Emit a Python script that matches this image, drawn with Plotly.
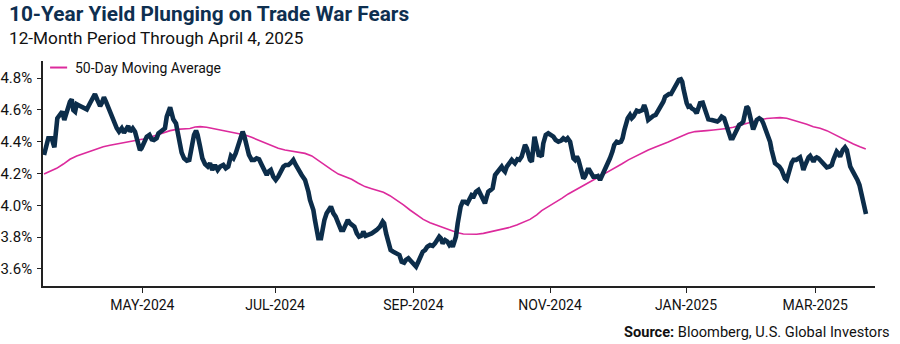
import pandas as pd
import plotly.graph_objects as go

START = pd.Timestamp("2024-04-04")

# 10-year Treasury yield (%), sampled along the series; x is calendar days since START
yield_days = [
    0.0, 1.9, 3.4, 4.6, 5.9, 7.1, 8.1, 9.0, 10.1, 11.5, 12.3, 13.0, 13.8, 14.5, 16.0,
    17.5, 19.0, 20.4, 21.9, 22.6, 23.7, 24.9, 25.6, 26.6, 27.5, 28.6, 30.0, 31.1, 32.3,
    33.3, 34.5, 35.5, 36.4, 37.4, 38.2, 39.4, 40.4, 41.4, 42.6, 43.3, 44.4, 45.6, 46.8,
    47.8, 48.8, 50.0, 50.8, 51.8, 52.7, 53.7, 54.5, 55.2, 56.0, 56.7, 57.4, 58.6, 59.2,
    60.1, 61.1, 62.2, 63.4, 64.5, 65.6, 66.6, 67.5, 68.2, 69.3, 70.3, 71.5, 72.7, 73.7,
    74.7, 75.9, 77.1, 78.2, 79.6, 80.7, 81.8, 83.0, 84.1, 85.1, 86.3, 87.5, 88.2, 89.0,
    90.0, 91.0, 92.2, 93.4, 94.4, 95.5, 96.7, 97.8, 98.9, 99.6, 100.7, 101.8, 102.9,
    104.0, 105.2, 106.3, 107.3, 108.5, 109.7, 110.7, 111.8, 112.9, 114.4, 115.9, 116.7,
    117.4, 118.1, 118.9, 119.6, 120.3, 121.1, 121.8, 123.0, 123.6, 124.5, 125.5, 126.6,
    127.4, 128.5, 129.5, 130.7, 131.9, 132.9, 133.7, 134.9, 135.9, 136.6, 137.8, 138.9,
    139.9, 141.1, 141.8, 142.8, 144.0, 145.5, 147.7, 149.2, 150.4, 151.0, 151.9, 152.9,
    153.9, 155.1, 156.6, 157.8, 158.8, 159.9, 160.7, 161.8, 162.8, 164.0, 165.2, 166.2,
    167.3, 168.2, 169.2, 170.2, 171.4, 172.6, 173.6, 174.6, 175.5, 176.2, 177.0, 178.1,
    179.1, 180.0, 180.7, 181.5, 182.1, 182.9, 183.7, 184.4, 185.0, 185.9, 186.9, 188.0,
    188.9, 189.9, 190.9, 191.8, 192.9, 193.6, 194.4, 195.1, 195.8, 196.6, 197.3, 198.4,
    199.2, 200.3, 201.0, 202.2, 203.2, 204.0, 204.7, 205.5, 206.6, 207.7, 208.4, 209.1,
    210.2, 211.1, 212.1, 212.9, 213.6, 214.4, 215.1, 215.8, 216.6, 217.3, 217.8, 218.3,
    219.0, 219.8, 220.2, 221.0, 221.7, 222.8, 223.9, 225.1, 226.2, 227.2, 228.4, 229.6,
    230.6, 231.7, 232.5, 233.6, 234.3, 235.1, 235.8, 236.6, 237.3, 238.0, 238.8, 239.5,
    240.2, 241.4, 242.1, 242.9, 243.9, 245.0, 245.9, 246.9, 247.6, 248.4, 249.4, 250.3,
    251.3, 252.4, 253.2, 254.3, 255.3, 256.2, 256.9, 257.7, 258.3, 259.2, 260.2, 261.0,
    261.7, 262.4, 263.2, 264.2, 265.1, 265.7, 266.5, 267.3, 268.3, 269.1, 269.8, 270.5,
    271.6, 272.5, 273.5, 274.3, 275.0, 275.8, 276.5, 277.5, 278.4, 279.0, 279.9, 280.9,
    281.9, 282.8, 283.4, 283.9, 284.6, 285.4, 286.1, 286.9, 287.6, 288.8, 289.8, 290.5,
    291.3, 292.5, 293.1, 294.0, 295.0, 296.5, 298.0, 299.0, 299.9, 300.9, 302.0, 302.8,
    303.9, 304.9, 305.8, 306.8, 307.8, 308.7, 309.8, 310.5, 311.3, 312.0, 312.7, 313.5,
    314.2, 314.9, 315.7, 316.5, 317.6, 318.7, 319.4, 320.2, 320.9, 321.6, 322.4, 323.1,
    323.8, 324.6, 325.6, 326.5, 327.5, 328.3, 329.0, 329.8, 330.5, 331.3, 332.0, 332.8,
    334.0, 335.0, 335.7, 336.5, 337.2, 338.0, 338.7, 339.5, 340.2, 341.0, 341.7, 342.4,
    343.1, 343.9, 344.6, 345.8, 346.8, 347.6, 348.8, 349.8, 350.5, 351.3, 352.0, 352.7,
    353.5, 354.7, 355.7, 356.5, 357.2, 358.0, 359.2, 360.2, 361.2, 362.1, 362.9, 363.6,
    364.4, 365.0,
]
yield_pct = [
    4.317, 4.422, 4.422, 4.365, 4.548, 4.579, 4.590, 4.537, 4.600, 4.652, 4.667, 4.600,
    4.590, 4.636, 4.625, 4.617, 4.604, 4.642, 4.694, 4.700, 4.663, 4.625, 4.642, 4.680,
    4.652, 4.610, 4.558, 4.516, 4.485, 4.464, 4.485, 4.457, 4.478, 4.499, 4.464, 4.485,
    4.464, 4.411, 4.348, 4.359, 4.400, 4.432, 4.443, 4.415, 4.411, 4.422, 4.453, 4.464,
    4.474, 4.485, 4.558, 4.600, 4.617, 4.579, 4.541, 4.516, 4.464, 4.390, 4.332, 4.296,
    4.281, 4.286, 4.369, 4.443, 4.470, 4.443, 4.369, 4.296, 4.260, 4.244, 4.265, 4.223,
    4.254, 4.223, 4.244, 4.254, 4.233, 4.244, 4.311, 4.296, 4.327, 4.380, 4.453, 4.464,
    4.432, 4.369, 4.317, 4.286, 4.286, 4.296, 4.290, 4.254, 4.223, 4.191, 4.212, 4.223,
    4.181, 4.160, 4.181, 4.223, 4.244, 4.254, 4.254, 4.269, 4.286, 4.254, 4.223, 4.191,
    4.160, 4.128, 4.086, 4.034, 4.003, 3.971, 3.908, 3.845, 3.793, 3.793, 3.845, 3.908,
    3.950, 3.982, 3.992, 3.950, 3.929, 3.887, 3.845, 3.845, 3.877, 3.908, 3.887, 3.877,
    3.866, 3.824, 3.803, 3.810, 3.835, 3.808, 3.814, 3.824, 3.845, 3.866, 3.898, 3.887,
    3.824, 3.761, 3.719, 3.709, 3.699, 3.688, 3.646, 3.640, 3.657, 3.667, 3.652, 3.636,
    3.615, 3.646, 3.688, 3.709, 3.719, 3.740, 3.751, 3.745, 3.761, 3.778, 3.803, 3.793,
    3.761, 3.782, 3.772, 3.751, 3.761, 3.740, 3.761, 3.803, 3.887, 3.950, 3.992, 4.023,
    4.023, 4.013, 4.044, 4.065, 4.059, 4.086, 4.097, 4.076, 4.044, 4.023, 4.013, 4.055,
    4.086, 4.097, 4.107, 4.191, 4.202, 4.223, 4.244, 4.223, 4.212, 4.244, 4.265, 4.286,
    4.275, 4.265, 4.290, 4.286, 4.307, 4.338, 4.380, 4.359, 4.327, 4.286, 4.275, 4.380,
    4.432, 4.400, 4.338, 4.307, 4.317, 4.307, 4.390, 4.443, 4.453, 4.443, 4.432, 4.411,
    4.400, 4.407, 4.422, 4.411, 4.422, 4.400, 4.348, 4.296, 4.286, 4.307, 4.286, 4.244,
    4.191, 4.170, 4.181, 4.223, 4.223, 4.202, 4.181, 4.181, 4.185, 4.160, 4.181, 4.202,
    4.223, 4.254, 4.296, 4.338, 4.380, 4.400, 4.395, 4.400, 4.422, 4.474, 4.516, 4.548,
    4.569, 4.548, 4.558, 4.579, 4.596, 4.590, 4.596, 4.600, 4.631, 4.600, 4.537, 4.548,
    4.558, 4.562, 4.569, 4.590, 4.611, 4.631, 4.652, 4.684, 4.694, 4.700, 4.700, 4.715,
    4.747, 4.768, 4.789, 4.793, 4.778, 4.736, 4.684, 4.642, 4.621, 4.625, 4.610, 4.600,
    4.579, 4.604, 4.642, 4.646, 4.621, 4.579, 4.541, 4.537, 4.533, 4.527, 4.537, 4.558,
    4.548, 4.516, 4.474, 4.422, 4.422, 4.453, 4.485, 4.506, 4.516, 4.527, 4.579, 4.621,
    4.610, 4.558, 4.506, 4.478, 4.506, 4.537, 4.548, 4.537, 4.516, 4.485, 4.453, 4.411,
    4.400, 4.348, 4.296, 4.265, 4.254, 4.244, 4.223, 4.191, 4.170, 4.160, 4.191, 4.244,
    4.269, 4.286, 4.286, 4.296, 4.302, 4.265, 4.223, 4.254, 4.286, 4.302, 4.311, 4.286,
    4.275, 4.296, 4.302, 4.296, 4.286, 4.269, 4.254, 4.239, 4.244, 4.254, 4.286, 4.317,
    4.338, 4.327, 4.307, 4.348, 4.365, 4.348, 4.286, 4.244, 4.212, 4.191, 4.160, 4.128,
    4.076, 4.023, 3.971, 3.946,
]

# 50-day moving average of the yield (%)
ma_days = [
    0.0, 2.7, 5.6, 8.6, 11.5, 14.5, 17.5, 20.4, 23.4, 26.3, 29.3, 32.3, 35.2, 38.2,
    41.2, 44.1, 47.1, 50.0, 53.0, 56.0, 58.9, 61.9, 64.8, 67.1, 69.3, 72.2, 74.5, 77.4,
    80.4, 83.3, 86.3, 89.3, 92.2, 95.2, 98.1, 101.1, 104.0, 107.0, 110.0, 112.9, 115.9,
    118.9, 121.8, 124.8, 127.8, 130.7, 133.7, 136.6, 139.6, 142.5, 145.5, 147.7, 150.7,
    153.6, 156.6, 159.6, 162.5, 165.5, 168.4, 171.4, 174.4, 177.3, 180.3, 183.3, 186.2,
    189.2, 192.1, 195.1, 198.0, 201.0, 204.0, 206.9, 209.9, 212.8, 215.8, 218.8, 221.0,
    223.9, 226.9, 229.9, 232.8, 235.8, 238.8, 241.7, 244.7, 247.6, 250.6, 253.6, 256.5,
    259.5, 262.4, 265.4, 268.3, 271.3, 274.3, 277.2, 280.2, 283.2, 286.1, 289.1, 292.0,
    294.3, 297.2, 300.2, 303.2, 306.1, 309.1, 312.0, 315.0, 317.9, 320.9, 323.9, 326.8,
    329.8, 332.7, 335.7, 338.7, 341.6, 344.6, 347.6, 350.5, 353.5, 356.4, 359.4, 362.3,
    364.9,
]
ma_pct = [
    4.197, 4.212, 4.233, 4.260, 4.290, 4.311, 4.327, 4.342, 4.357, 4.369, 4.378, 4.386,
    4.391, 4.399, 4.407, 4.418, 4.428, 4.443, 4.457, 4.470, 4.478, 4.480, 4.483, 4.493,
    4.495, 4.491, 4.485, 4.478, 4.470, 4.460, 4.453, 4.443, 4.428, 4.411, 4.395, 4.374,
    4.359, 4.348, 4.342, 4.336, 4.327, 4.311, 4.281, 4.254, 4.223, 4.197, 4.181, 4.164,
    4.139, 4.118, 4.105, 4.097, 4.082, 4.061, 4.034, 4.003, 3.971, 3.940, 3.912, 3.891,
    3.875, 3.858, 3.841, 3.829, 3.820, 3.818, 3.818, 3.824, 3.833, 3.841, 3.849, 3.862,
    3.877, 3.893, 3.912, 3.940, 3.967, 3.992, 4.017, 4.044, 4.072, 4.097, 4.122, 4.143,
    4.166, 4.189, 4.212, 4.237, 4.260, 4.286, 4.307, 4.327, 4.348, 4.365, 4.380, 4.399,
    4.418, 4.436, 4.453, 4.464, 4.470, 4.470, 4.474, 4.478, 4.483, 4.491, 4.504, 4.516,
    4.527, 4.537, 4.546, 4.550, 4.552, 4.548, 4.537, 4.525, 4.510, 4.495, 4.485, 4.470,
    4.449, 4.428, 4.407, 4.386, 4.369, 4.355,
]

y_ticks = [3.6, 3.8, 4.0, 4.2, 4.4, 4.6, 4.8]
x_tick_dates = ["2024-05-17 16:00", "2024-07-15 14:00", "2024-09-15 00:00",
                "2024-11-14 17:00", "2025-01-14 02:00", "2025-03-12 10:00"]
x_tick_labels = ["MAY-2024", "JUL-2024", "SEP-2024", "NOV-2024", "JAN-2025", "MAR-2025"]

NAVY = "#0C2D4A"
MAGENTA = "#DC2A9C"
FONT = "Roboto"


def to_dates(days):
    return START + pd.to_timedelta(days, unit="D")


fig = go.Figure()
fig.add_trace(go.Scatter(
    x=to_dates(ma_days), y=ma_pct, mode="lines", name="50-Day Moving Average",
    line=dict(color=MAGENTA, width=1.6), showlegend=False,
))
fig.add_trace(go.Scatter(
    x=to_dates(yield_days), y=yield_pct, mode="lines", name="10-Year Yield",
    line=dict(color=NAVY, width=4.6, shape="linear"), showlegend=False,
))

# Legend drawn as a short key line plus label
fig.add_shape(type="line", xref="paper", yref="paper", x0=0.0085, x1=0.029, y0=0.971, y1=0.971,
              line=dict(color=MAGENTA, width=2))
fig.add_annotation(text="50-Day Moving Average", xref="paper", yref="paper", x=0.036, y=0.971,
                   xanchor="left", yanchor="middle", showarrow=False,
                   font=dict(family=FONT, size=14, color="#111111"))

# Title block
fig.add_annotation(text="<b>10-Year Yield Plunging on Trade War Fears</b>", xref="paper", yref="paper",
                   x=-0.0432, y=1.208, xanchor="left", yanchor="middle", showarrow=False,
                   font=dict(family=FONT, size=20.8, color="#0E2F50"))
fig.add_annotation(text="12-Month Period Through April 4, 2025", xref="paper", yref="paper",
                   x=-0.0432, y=1.100, xanchor="left", yanchor="middle", showarrow=False,
                   font=dict(family=FONT, size=17.2, color="#111111"))
fig.add_annotation(text="<b>Source:</b> Bloomberg, U.S. Global Investors", xref="paper", yref="paper",
                   x=1.020, y=-0.205, xanchor="right", yanchor="middle", showarrow=False,
                   font=dict(family=FONT, size=14.6, color="#111111"))

fig.update_layout(
    width=900, height=344,
    margin=dict(l=43, r=25, t=61, b=58, autoexpand=False),
    paper_bgcolor="white", plot_bgcolor="white",
    font=dict(family=FONT, color="#111111"),
    xaxis=dict(
        type="date", range=["2024-04-03 13:00", "2025-04-08 00:00"],
        tickvals=x_tick_dates, ticktext=x_tick_labels, automargin=False,
        showgrid=False, zeroline=False,
        showline=True, linecolor="#222222", linewidth=1.5,
        ticks="outside", ticklen=5, tickwidth=1.3, tickcolor="#222222",
        tickfont=dict(family=FONT, size=14, color="#111111"),
    ),
    yaxis=dict(
        range=[3.493, 4.908], tickvals=y_ticks, automargin=False,
        ticktext=[f"{v:.1f}%" for v in y_ticks],
        showgrid=False, zeroline=False,
        showline=True, linecolor="#222222", linewidth=1.5,
        ticks="outside", ticklen=4, tickwidth=1.3, tickcolor="#222222",
        ticklabelstandoff=2,
        tickfont=dict(family=FONT, size=15, color="#111111"),
    ),
)

fig.write_html("out.html")
